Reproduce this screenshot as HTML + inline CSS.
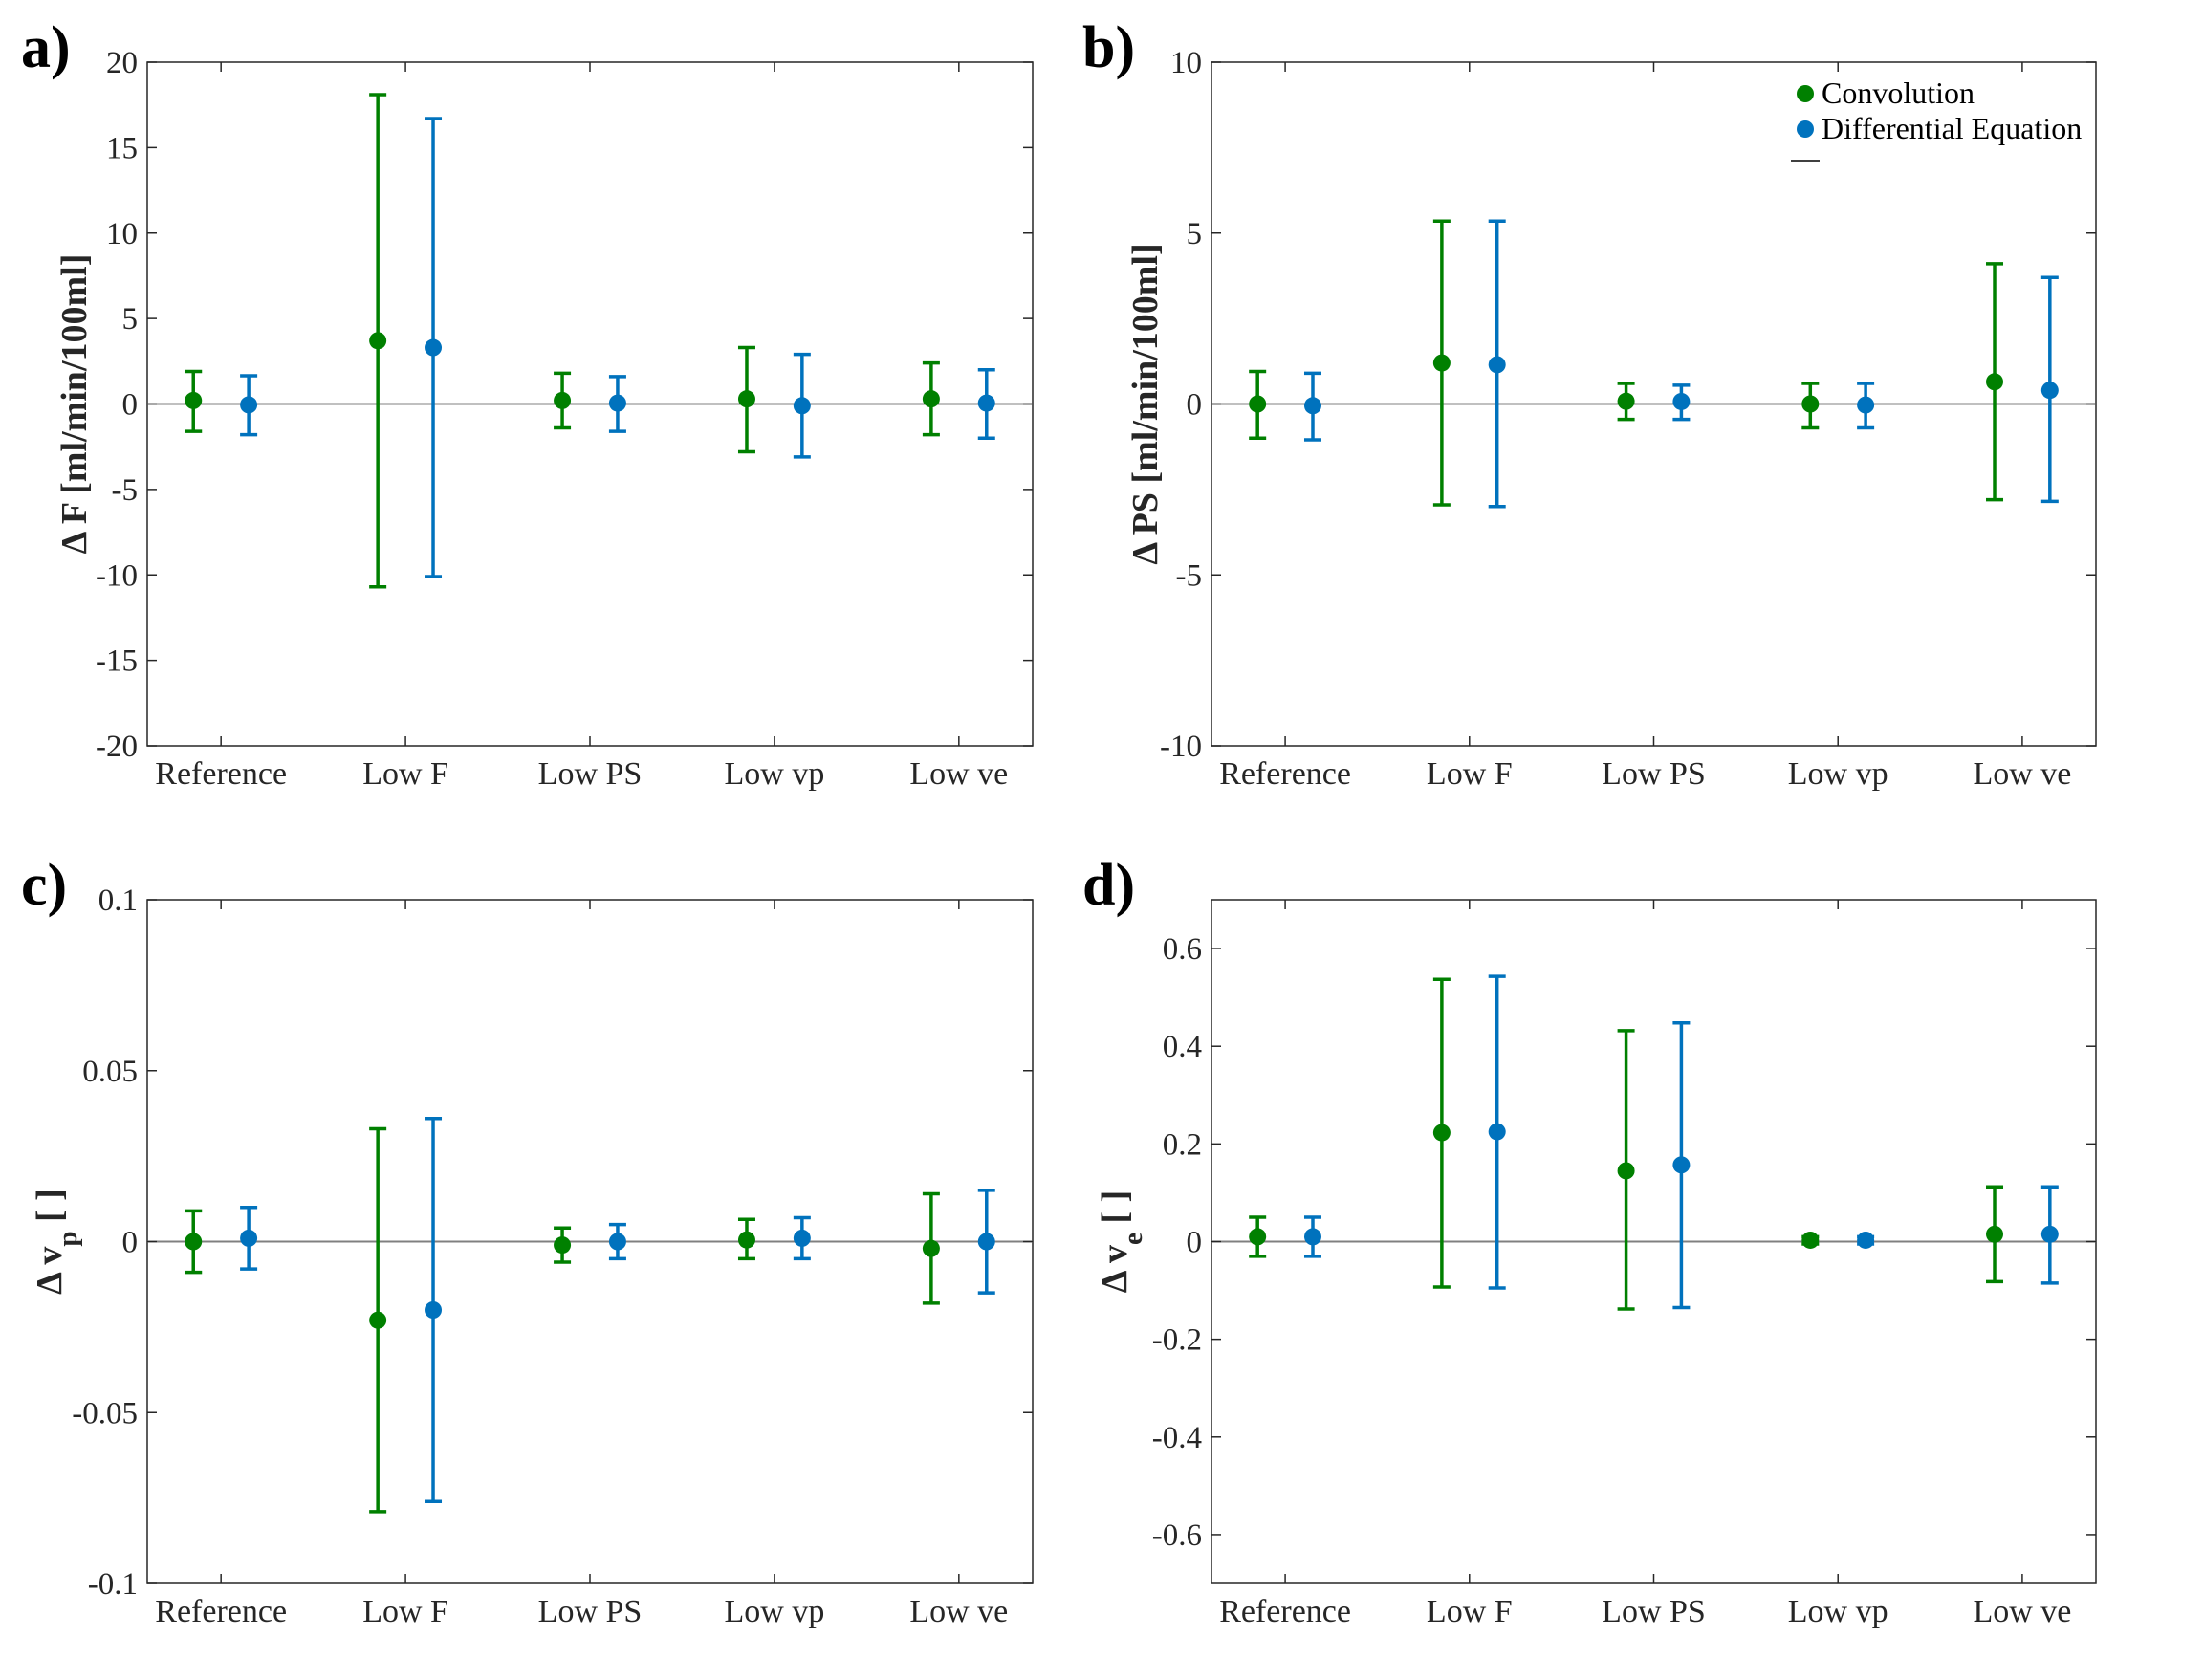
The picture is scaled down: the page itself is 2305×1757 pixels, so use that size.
<!DOCTYPE html>
<html><head><meta charset="utf-8"><style>
html,body{margin:0;padding:0;background:#fff;}
svg text{font-family:"Liberation Serif",serif;}
</style></head><body>
<svg id="fig" width="2305" height="1752" viewBox="0 0 2305 1752" xmlns="http://www.w3.org/2000/svg"></svg>
<script>
const categories = ["Reference","Low F","Low PS","Low vp","Low ve"];
// panel a: ΔF
const aConvMean = [0.2, 3.7, 0.2, 0.3, 0.3];
const aConvLow  = [-1.6, -10.7, -1.4, -2.8, -1.8];
const aConvHigh = [1.9, 18.1, 1.8, 3.3, 2.4];
const aDiffMean = [-0.05, 3.3, 0.05, -0.1, 0.05];
const aDiffLow  = [-1.8, -10.1, -1.6, -3.1, -2.0];
const aDiffHigh = [1.65, 16.7, 1.6, 2.9, 2.0];
const aTicks = [-20,-15,-10,-5,0,5,10,15,20];
// panel b: ΔPS
const bConvMean = [0, 1.2, 0.08, 0, 0.65];
const bConvLow  = [-1.0, -2.95, -0.45, -0.7, -2.8];
const bConvHigh = [0.95, 5.35, 0.6, 0.6, 4.1];
const bDiffMean = [-0.05, 1.15, 0.07, -0.03, 0.4];
const bDiffLow  = [-1.05, -3.0, -0.45, -0.7, -2.85];
const bDiffHigh = [0.9, 5.35, 0.55, 0.6, 3.7];
const bTicks = [-10,-5,0,5,10];
// panel c: Δvp
const cConvMean = [0, -0.023, -0.001, 0.0005, -0.002];
const cConvLow  = [-0.009, -0.079, -0.006, -0.005, -0.018];
const cConvHigh = [0.009, 0.033, 0.004, 0.0065, 0.014];
const cDiffMean = [0.001, -0.020, 0, 0.001, 0];
const cDiffLow  = [-0.008, -0.076, -0.005, -0.005, -0.015];
const cDiffHigh = [0.010, 0.036, 0.005, 0.007, 0.015];
const cTicks = [-0.1,-0.05,0,0.05,0.1];
const cTickLabels = ["-0.1","-0.05","0","0.05","0.1"];
// panel d: Δve
const dConvMean = [0.01, 0.223, 0.145, 0.003, 0.015];
const dConvLow  = [-0.03, -0.093, -0.138, -0.005, -0.082];
const dConvHigh = [0.05, 0.537, 0.432, 0.01, 0.112];
const dDiffMean = [0.01, 0.225, 0.157, 0.003, 0.015];
const dDiffLow  = [-0.03, -0.095, -0.135, -0.005, -0.085];
const dDiffHigh = [0.05, 0.543, 0.448, 0.01, 0.112];
const dTicks = [-0.6,-0.4,-0.2,0,0.2,0.4,0.6];

const NS="http://www.w3.org/2000/svg";
const svg=document.getElementById('fig');
function el(tag,attrs,parent,text){const e=document.createElementNS(NS,tag);for(const k in attrs)e.setAttribute(k,attrs[k]);if(text!==undefined)e.textContent=text;(parent||svg).appendChild(e);return e;}
const GREEN="#008000", BLUE="#0072BD";

function panel(cfg){
  const g=el('g',{});
  
  
  const L=cfg.x0,R=cfg.x1,T=cfg.y0,B=cfg.y1;
  const xs=v=>L+(v-0.6)/4.8*(R-L);
  const ys=v=>B-(v-cfg.ymin)/(cfg.ymax-cfg.ymin)*(B-T);
  const frame=el('rect',{x:L,y:T,width:R-L,height:B-T,fill:'none',stroke:'#262626','stroke-width':1.5},g);
  
  
  const zl=el('line',{x1:L,x2:R,y1:ys(0),y2:ys(0),stroke:'#808080','stroke-width':2},g);
  
  
  cfg.ticks.forEach((t,i)=>{
    const y=ys(t);
    el('line',{x1:L,x2:L+10,y1:y,y2:y,stroke:'#262626','stroke-width':1.5},g);
    el('line',{x1:R,x2:R-10,y1:y,y2:y,stroke:'#262626','stroke-width':1.5},g);
    const tx=el('text',{x:L-10,y:y+11,'text-anchor':'end','font-size':33,fill:'#262626'},g,cfg.labels?cfg.labels[i]:String(t));
    
    
  });
  categories.forEach((c,i)=>{
    const x=xs(i+1);
    el('line',{x1:x,x2:x,y1:B,y2:B-10,stroke:'#262626','stroke-width':1.5},g);
    el('line',{x1:x,x2:x,y1:T,y2:T+10,stroke:'#262626','stroke-width':1.5},g);
    const tx=el('text',{x:x,y:B+40,'text-anchor':'middle','font-size':34,fill:'#262626'},g,c);
    
    
  });
  const series=[[cfg.cm,cfg.cl,cfg.ch,GREEN,-0.15,'convolution'],[cfg.dm,cfg.dl,cfg.dh,BLUE,0.15,'differential-equation']];
  series.forEach(s=>{
    s[0].forEach((m,i)=>{
      const x=xs(i+1+s[4]);
      const e=el('g',{stroke:s[3],'stroke-width':3.5},g);
      
      
      el('line',{x1:x,x2:x,y1:ys(s[1][i]),y2:ys(s[2][i])},e);
      el('line',{x1:x-9,x2:x+9,y1:ys(s[1][i]),y2:ys(s[1][i])},e);
      el('line',{x1:x-9,x2:x+9,y1:ys(s[2][i]),y2:ys(s[2][i])},e);
      const p=el('circle',{cx:x,cy:ys(m),r:9,fill:s[3],stroke:'none'},g);
      
      
    });
  });
  const cy=(T+B)/2;
  const yt=el('text',{transform:`translate(${cfg.tx},${cy}) rotate(-90)`,'text-anchor':'middle','font-size':38,'font-weight':'bold',fill:'#262626'},g);
  
  
  yt.innerHTML=cfg.title;
  const lt=el('text',{x:cfg.lx,y:cfg.ly,'font-size':62,'font-weight':'bold',fill:'#000'},g,cfg.id+')');
  
  
}
panel({id:'a',x0:154,x1:1080,y0:65,y1:780,ymin:-20,ymax:20,ticks:aTicks,cm:aConvMean,cl:aConvLow,ch:aConvHigh,dm:aDiffMean,dl:aDiffLow,dh:aDiffHigh,tx:90,title:'Δ F [ml/min/100ml]',lx:22,ly:70});
panel({id:'b',x0:1267,x1:2192,y0:65,y1:780,ymin:-10,ymax:10,ticks:bTicks,cm:bConvMean,cl:bConvLow,ch:bConvHigh,dm:bDiffMean,dl:bDiffLow,dh:bDiffHigh,tx:1210,title:'Δ PS [ml/min/100ml]',lx:1132,ly:70});
panel({id:'c',x0:154,x1:1080,y0:941,y1:1656,ymin:-0.1,ymax:0.1,ticks:cTicks,labels:cTickLabels,cm:cConvMean,cl:cConvLow,ch:cConvHigh,dm:cDiffMean,dl:cDiffLow,dh:cDiffHigh,tx:64,title:'Δ v<tspan baseline-shift="sub" font-size="29">p</tspan> [ ]',lx:22,ly:946});
panel({id:'d',x0:1267,x1:2192,y0:941,y1:1656,ymin:-0.7,ymax:0.7,ticks:dTicks,cm:dConvMean,cl:dConvLow,ch:dConvHigh,dm:dDiffMean,dl:dDiffLow,dh:dDiffHigh,tx:1178,title:'Δ v<tspan baseline-shift="sub" font-size="29">e</tspan> [ ]',lx:1132,ly:946});

const lg=el('g',{});


const l1=el('g',{},lg);


el('circle',{cx:1888,cy:98,r:9,fill:GREEN},l1);
el('text',{x:1905,y:108,'font-size':32,fill:'#000'},l1,'Convolution');
const l2=el('g',{},lg);


el('circle',{cx:1888,cy:135,r:9,fill:BLUE},l2);
el('text',{x:1905,y:145,'font-size':32,fill:'#000'},l2,'Differential Equation');
const l3=el('line',{x1:1873,x2:1903,y1:168,y2:168,stroke:'#000','stroke-width':1.5},lg);


</script>
</body></html>
